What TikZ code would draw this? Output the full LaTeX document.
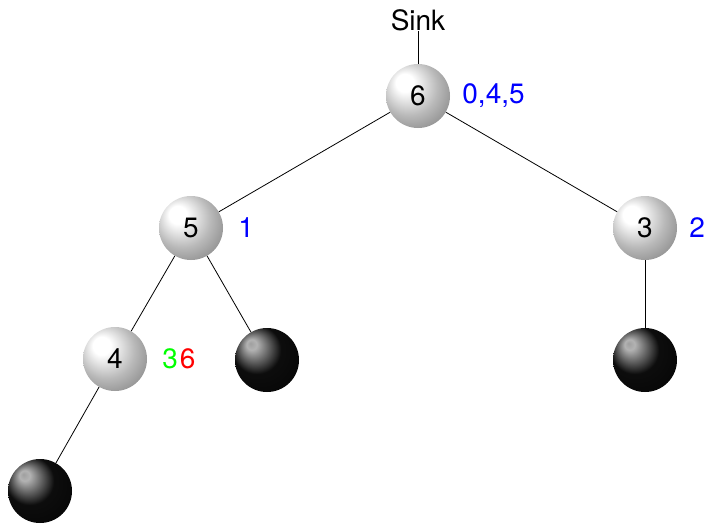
\documentclass[tikz,border=0pt]{standalone}
\usepackage{fontspec}
\setmainfont{TeX Gyre Heros}
\usepackage{xcolor}
\usepackage{tikz}
\usetikzlibrary{positioning}
\definecolor{lblue}{RGB}{0,0,255}
\definecolor{lgreen}{RGB}{0,255,0}
\definecolor{lred}{RGB}{255,0,0}
\pgfdeclareradialshading{greyball}{\pgfqpoint{-12bp}{12bp}}{color(0bp)=(white); color(7bp)=(white); color(22bp)=(gray!55); color(34bp)=(gray!90); color(50bp)=(gray!80!black)}
\pgfdeclareradialshading{darkball}{\pgfqpoint{-13bp}{13bp}}{color(0bp)=(gray!75); color(4bp)=(gray!60); color(19bp)=(black!95); color(50bp)=(black)}

\begin{document}
\begin{tikzpicture}[x=1pt,y=-1pt,node distance=12pt,
  every node/.style={font=\fontsize{28}{33}\selectfont,inner sep=0pt},
  inner/.style={circle,minimum size=64pt,shading=greyball},
  leaf/.style={circle,minimum size=64pt,shading=darkball},
  lbl/.style={lblue},
  edge/.style={line width=0.8pt}]
\useasboundingbox (0,0) rectangle (710,523);
\node (sink) at (418,20) {Sink};
\node[inner] (n6) at (418,96) {6};
\node[inner] (n5) at (191,228) {5};
\node[inner] (n3) at (645,228) {3};
\node[inner] (n4) at (115,359) {4};
\node[leaf] (l5) at (267,360) {};
\node[leaf] (l3) at (645,360) {};
\node[leaf] (l4) at (40,491) {};
\node[lbl,right=of n6] (t6) {0,4,5};
\node[lbl,right=15pt of n5] (t5) {1};
\node[lbl,right=of n3] (t3) {2};
\node[right=15pt of n4] (t4) {\textcolor{lgreen}{3}\kern2pt\textcolor{lred}{6}};
\draw[edge] (sink.south)--(n6); \draw[edge] (n6)--(n5); \draw[edge] (n6)--(n3);
\draw[edge] (n5)--(n4); \draw[edge] (n5)--(l5); \draw[edge] (n3)--(l3); \draw[edge] (n4)--(l4);
\end{tikzpicture}
\end{document}
